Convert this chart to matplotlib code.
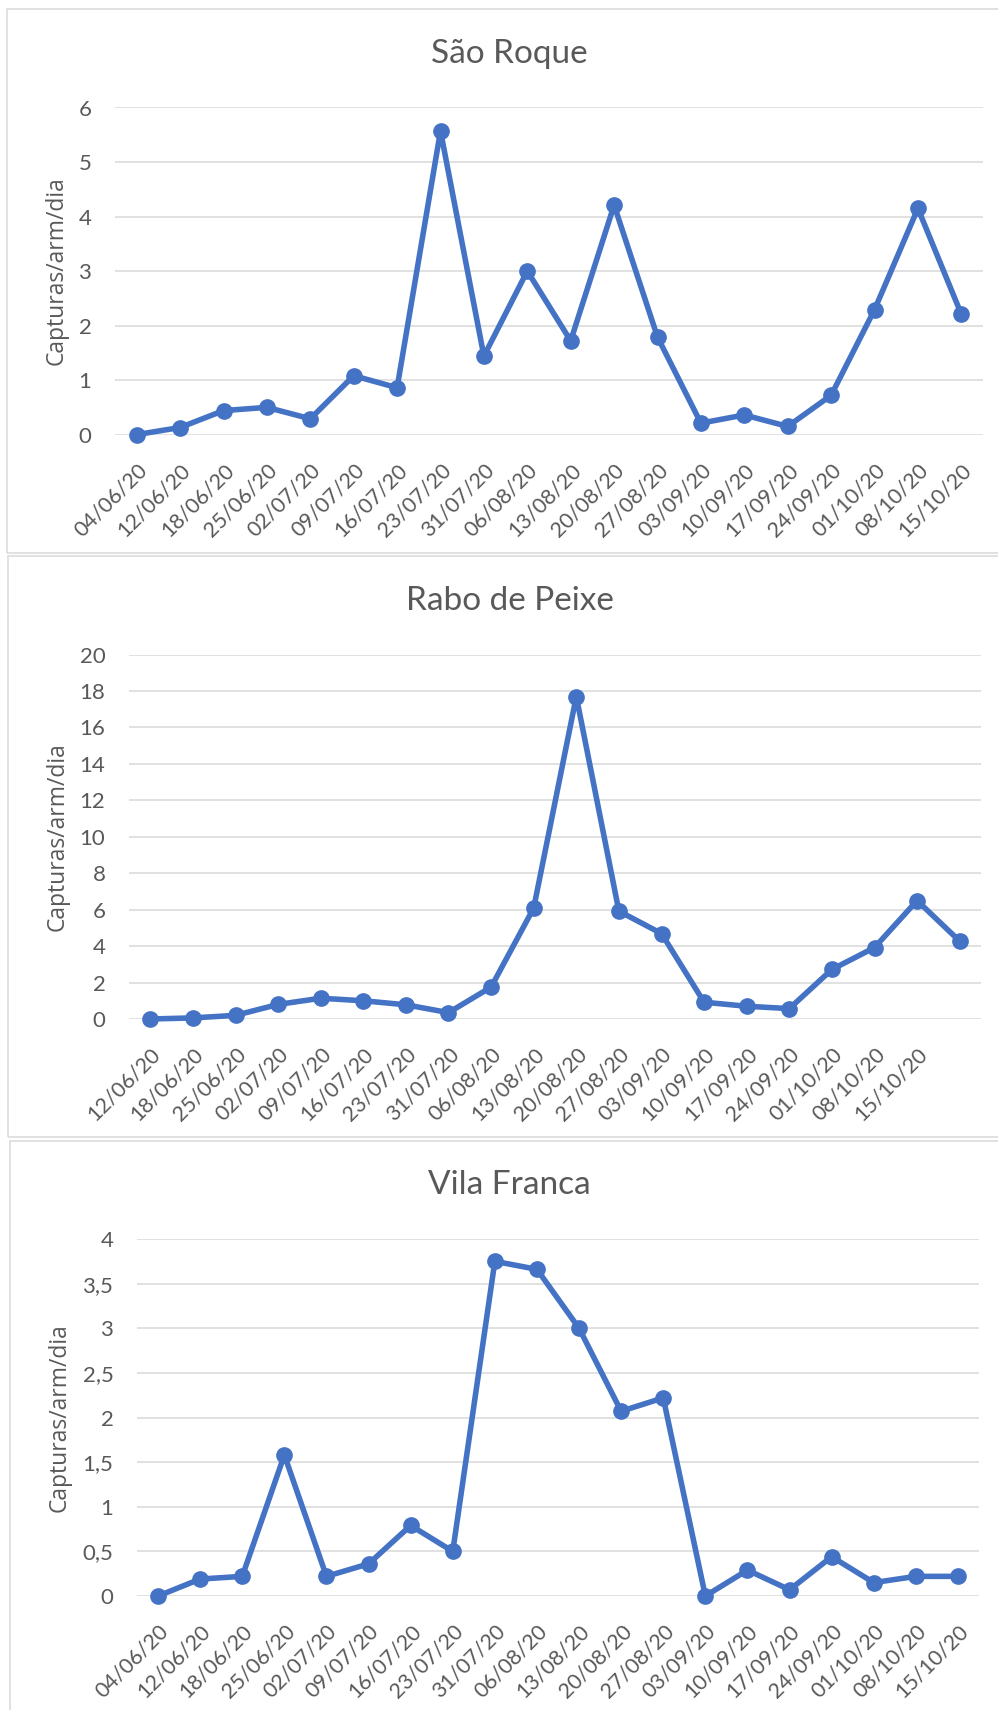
import matplotlib
matplotlib.use('Agg')
import matplotlib.pyplot as plt
from matplotlib.patches import Rectangle
from matplotlib.ticker import FuncFormatter

plt.rcParams['font.family'] = ['Lato', 'DejaVu Sans']

# Data (capturas / armadilha / dia)
dates = ['04/06/20', '12/06/20', '18/06/20', '25/06/20', '02/07/20', '09/07/20',
         '16/07/20', '23/07/20', '31/07/20', '06/08/20', '13/08/20', '20/08/20',
         '27/08/20', '03/09/20', '10/09/20', '17/09/20', '24/09/20', '01/10/20',
         '08/10/20', '15/10/20']

sao_roque = [0, 0.13, 0.44, 0.50, 0.29, 1.08, 0.86, 5.57, 1.44, 3.0,
             1.72, 4.21, 1.79, 0.21, 0.36, 0.15, 0.72, 2.29, 4.15, 2.21]

# Rabo de Peixe has 20 points but only 19 category labels (last one blank)
rp_dates = dates[1:] + ['']
rabo_peixe = [0, 0.06, 0.2, 0.8, 1.14, 1.0, 0.78, 0.35, 1.75, 6.09,
              17.7, 5.92, 4.69, 0.92, 0.70, 0.57, 2.72, 3.92, 6.5, 4.27]

vila_franca = [0, 0.19, 0.22, 1.58, 0.22, 0.36, 0.79, 0.50, 3.75, 3.66,
               3.0, 2.07, 2.22, 0.0, 0.29, 0.07, 0.44, 0.15, 0.22, 0.22]

BLUE = '#4472C4'
GRID = '#D9D9D9'
TXT = '#595959'
W, H = 998, 1710

fig = plt.figure(figsize=(W / 100, H / 100), dpi=100)


def px_box(x0, y0, x1, y1):
    # pixel box (top-left origin) -> figure fraction [left, bottom, w, h]
    return [x0 / W, 1 - y1 / H, (x1 - x0) / W, (y1 - y0) / H]


def comma_fmt(v, pos):
    return ('%g' % v).replace('.', ',')


panels = [
    # title, labels, values, ylim, step, axes box, title pos, ylabel pos, frame
    ('São Roque', dates, sao_roque, 6, 1,
     (115, 107.5, 983, 434.6), (509, 54), (57, 271), (7, 9, 1000, 553)),
    ('Rabo de Peixe', rp_dates, rabo_peixe, 20, 2,
     (129, 654.6, 981, 1019), (510, 601), (58, 837), (8, 556, 1000, 1137)),
    ('Vila Franca', dates, vila_franca, 4, 0.5,
     (137, 1239, 979, 1596), (509, 1185), (60, 1418), (10, 1141, 1000, 1715)),
]

for title, labels, vals, ymax, step, box, tpos, lpos, frame in panels:
    fig.add_artist(Rectangle((frame[0] / W, 1 - frame[3] / H),
                             (frame[2] - frame[0]) / W, (frame[3] - frame[1]) / H,
                             transform=fig.transFigure, fill=False,
                             edgecolor=GRID, linewidth=1.1, zorder=0))

    ax = fig.add_axes(px_box(*box))
    x = list(range(len(vals)))
    ax.plot(x, vals, color=BLUE, linewidth=4.0, marker='o', markersize=11,
            solid_joinstyle='round', zorder=3, clip_on=False)
    ax.set_xlim(-0.5, len(vals) - 0.5)
    ax.set_ylim(0, ymax)
    n = int(round(ymax / step))
    ax.set_yticks([i * step for i in range(n + 1)])
    ax.yaxis.set_major_formatter(FuncFormatter(comma_fmt))
    ax.set_xticks(x)
    ax.set_xticklabels(labels, rotation=45, ha='right', va='top',
                       rotation_mode='anchor')
    ax.grid(axis='y', color=GRID, linewidth=1.1)
    ax.set_axisbelow(True)
    for s in ax.spines.values():
        s.set_visible(False)
    ax.tick_params(axis='y', length=0, pad=17, labelsize=16, labelcolor=TXT)
    ax.tick_params(axis='x', length=0, pad=18, labelsize=15.5, labelcolor=TXT)

    fig.text(tpos[0] / W, 1 - tpos[1] / H, title, ha='center', va='center',
             fontsize=24, color=TXT)
    fig.text(lpos[0] / W, 1 - lpos[1] / H, 'Capturas/arm/dia', ha='center',
             va='center', rotation=90, fontsize=16.5, color=TXT,
             family=['Open Sans', 'DejaVu Sans'])

fig.savefig('out.png', dpi=100, facecolor='white')
